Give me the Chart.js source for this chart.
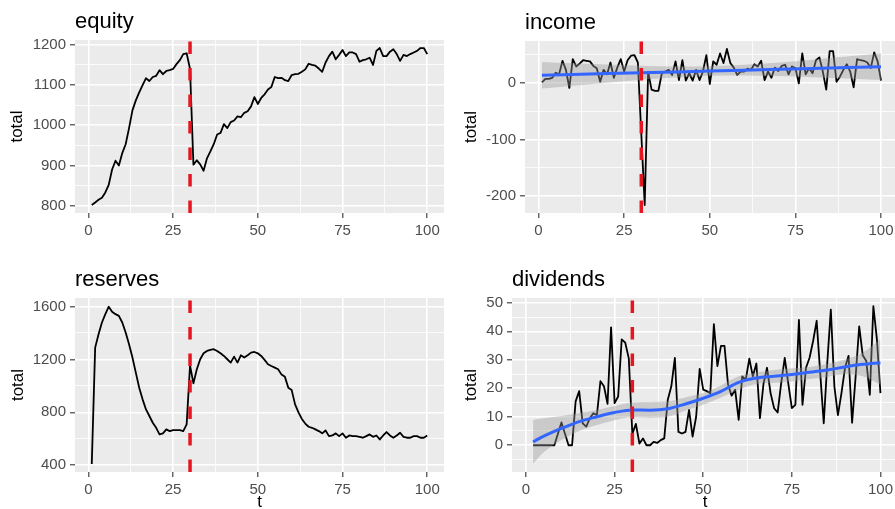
<!DOCTYPE html>
<html lang="en">
<head>
<meta charset="UTF-8" />
<title>equity / income / reserves / dividends</title>
<script src="https://cdn.jsdelivr.net/npm/chart.js"></script>
<style>
  html, body { margin: 0; padding: 0; background: #fff; overflow: hidden; }
  body { width: 895px; height: 509px; position: relative; }
  canvas { position: absolute; }
  #equity { left: 0; top: 0; }
  #income { left: 445px; top: 0; }
  #reserves { left: 0; top: 255px; }
  #dividends { left: 445px; top: 255px; }
</style>
</head>
<body>
<canvas id="equity" width="450" height="255"></canvas>
<canvas id="income" width="460" height="255"></canvas>
<canvas id="reserves" width="450" height="254"></canvas>
<canvas id="dividends" width="460" height="254"></canvas>

<script>
// time index and the shock period
const t = Array.from({ length: 100 }, (_, i) => i + 1);
const shockT = 30;

// x axis
const xTicks = [0, 25, 50, 75, 100];
const xLim = [-3.95, 104.95];

// equity
const equity = [
  802, 808, 815, 820, 833, 852, 890, 912, 900, 931,
  953, 993, 1037, 1062, 1082, 1100, 1117, 1110, 1120, 1123,
  1137, 1127, 1135, 1137, 1140, 1152, 1162, 1177, 1179, 1140,
  902, 913, 903, 887, 918, 935, 953, 977, 981, 1003,
  993, 1008, 1012, 1022, 1020, 1031, 1035, 1047, 1070, 1053,
  1068, 1077, 1089, 1095, 1120, 1117, 1118, 1112, 1110, 1125,
  1127, 1128, 1133, 1139, 1153, 1150, 1148, 1141, 1133, 1156,
  1172, 1183, 1164, 1175, 1187, 1172, 1181, 1181, 1177, 1158,
  1162, 1164, 1168, 1150, 1185, 1192, 1172, 1172, 1183, 1189,
  1177, 1160, 1175, 1172, 1177, 1181, 1185, 1192, 1192, 1177
];
const equityTicks = [800, 900, 1000, 1100, 1200];
const equityLim = [782, 1212];

// income
const income = [
  1, 7, 7, 9, 18, 15, 39, 23, -9, 42,
  29, 34, 40, 39, 38, 30, 26, 2, 23, 15,
  36, 9, 27, 42, 20, 40, 48, 49, 36, -90,
  -216, 20, -12, -14, -14, 17, 20, 23, 14, 38,
  5, 40, 4, 17, 4, 23, 5, 20, 49, -2,
  38, 32, 52, 35, 60, 35, 27, 14, 20, 20,
  25, 23, 33, 29, 39, 5, 20, 9, 27, 21,
  30, 32, 15, 29, 26, -1, 52, 15, 26, 17,
  40, 45, 20, -12, 56, 56, 2, 11, 23, 33,
  20, -8, 42, 40, 39, 36, 26, 54, 38, 4
];
const incomeTicks = [-200, -100, 0];
const incomeLim = [-230, 74];
// linear trend with its confidence band
const incomeFitT = [1, 10, 20, 30, 40, 50, 60, 70, 80, 90, 100];
const incomeFit = [13.5, 14.9, 16.4, 17.9, 19.4, 21.0, 22.5, 24.0, 25.5, 27.0, 28.5];
const incomeHi = [37, 34.7, 32.4, 30.3, 29.1, 29.5, 31.9, 36, 41, 46.4, 52];
const incomeLo = [-10, -4.9, 0.4, 5.5, 9.7, 12.5, 13.1, 12, 10, 7.6, 5];

// reserves
const reserves = [
  410, 1289, 1390, 1479, 1542, 1598, 1560, 1542, 1529, 1479,
  1403, 1315, 1214, 1100, 986, 898, 822, 772, 721, 683,
  633, 641, 671, 658, 666, 666, 666, 658, 709, 1155,
  1019, 1125, 1201, 1246, 1264, 1272, 1277, 1264, 1246, 1226,
  1201, 1176, 1221, 1176, 1231, 1214, 1231, 1251, 1256, 1246,
  1226, 1196, 1163, 1150, 1138, 1125, 1085, 1068, 985, 968,
  860, 800, 750, 715, 691, 683, 671, 658, 641, 663,
  620, 625, 641, 620, 641, 608, 625, 620, 620, 615,
  608, 620, 633, 615, 625, 595, 625, 651, 625, 608,
  625, 646, 615, 608, 608, 620, 620, 608, 608, 625
];
const reservesTicks = [400, 800, 1200, 1600];
const reservesLim = [349, 1664];

// dividends (from t = 2)
const dividendsT = t.slice(1);
const dividends = [
  0, 0, 0, 0, 0, 0, 0, 4, 8,
  4, 0, 0, 15.4, 19, 7.7, 6.5, 9.5, 11.2, 10.6,
  22.5, 20.7, 14.5, 41.4, 14.8, 17.1, 37.2, 36, 30.5, 4,
  7.5, 0.6, 2.4, 0, 0, 1.2, 0.8, 1.8, 2.4, 16,
  20.7, 30.7, 4.7, 4.1, 4.7, 12.4, 3, 10, 26.8, 19.5,
  19, 18.3, 42.5, 27.8, 34.9, 34.9, 21.3, 17.4, 19.5, 8.9,
  24.2, 23, 30.4, 24.2, 28.7, 9.5, 21.6, 27.2, 18.3, 13,
  11.5, 21.9, 30.7, 21.6, 13, 14.2, 44, 14.2, 27.2, 30.7,
  36.6, 43.7, 25.4, 7.7, 29, 47.6, 20.7, 10.6, 18.3, 27.2,
  31.4, 7.9, 24.2, 41.7, 31.6, 29.6, 17.7, 48.8, 37.2, 18.3
];
const dividendsTicks = [0, 10, 20, 30, 40, 50];
const dividendsLim = [-9.4, 51.7];
// loess smooth with its band
const dividendsFitT = [2, 5, 10, 15, 20, 25, 30, 35, 40, 45, 50, 55, 60, 65, 70, 75, 80, 85, 90, 95, 100];
const dividendsFit = [1.2, 3.2, 5.9, 8.3, 10, 11.5, 12.4, 12.3, 12.8, 14.5, 16.5, 18.9, 22.1, 23.6, 24.2, 24.8, 25.6, 26.4, 27.5, 28.4, 29];
const dividendsHi = [8.9, 9.5, 10.3, 11.2, 12.4, 13.8, 15, 15.2, 15.4, 16.8, 18.3, 21, 24.2, 25.5, 26.4, 27, 27.5, 28.5, 30.1, 32.5, 37.2];
const dividendsLo = [-6.5, -2.5, 1.8, 5, 7.1, 8.8, 9.8, 9.6, 10, 12.2, 14.2, 16.8, 19.5, 21.5, 21.9, 22.4, 23.3, 24, 24.8, 24.2, 21.3];

Chart.defaults.font.family = "'Liberation Sans', Arial, sans-serif";

const RED = '#e5161f';
const BLUE = '#3366ff';
const RIBBON = 'rgba(153,153,153,0.4)';

// grey panel behind the plot
const panelBg = {
  id: 'panelBg',
  beforeDraw(chart) {
    const { ctx, chartArea: a } = chart;
    ctx.save();
    ctx.fillStyle = '#ebebeb';
    ctx.fillRect(a.left, a.top, a.right - a.left, a.bottom - a.top);
    ctx.restore();
  }
};

// ggplot-like title, left aligned with the panel
const panelTitle = {
  id: 'panelTitle',
  afterDraw(chart, args, opts) {
    const { ctx, chartArea: a } = chart;
    ctx.save();
    ctx.font = "22px 'Liberation Sans', Arial, sans-serif";
    ctx.fillStyle = '#000';
    ctx.textBaseline = 'alphabetic';
    ctx.textAlign = 'left';
    ctx.fillText(opts.text, a.left, a.top - 12);
    ctx.restore();
  }
};

function minorOf(major, lim) {
  const step = major[1] - major[0];
  const out = [];
  [major[0] - step, ...major].forEach(m => {
    const v = m + step / 2;
    if (v > lim[0] && v < lim[1]) out.push(v);
  });
  return out;
}

function axis(major, lim, extra) {
  const all = [...major, ...minorOf(major, lim)].sort((a, b) => a - b);
  const isMajor = v => major.includes(v);
  return {
    type: 'linear',
    min: lim[0],
    max: lim[1],
    afterBuildTicks: s => { s.ticks = all.map(v => ({ value: v })); },
    border: { display: false },
    grid: {
      color: '#ffffff',
      lineWidth: c => (c.tick && isMajor(c.tick.value)) ? 1.6 : 0.8,
      tickColor: c => (c.tick && isMajor(c.tick.value)) ? '#333333' : 'rgba(0,0,0,0)',
      tickLength: 5,
      tickWidth: 1.1
    },
    ticks: {
      autoSkip: false,
      maxRotation: 0,
      color: '#4d4d4d',
      font: { size: 15 },
      padding: 4,
      callback: v => isMajor(v) ? String(v) : ''
    },
    ...extra
  };
}

const pts = (xs, ys) => xs.map((x, i) => ({ x, y: ys[i] }));

function panel(id, p) {
  const datasets = [{
    data: [{ x: shockT, y: p.yLim[0] }, { x: shockT, y: p.yLim[1] }],
    borderColor: RED, borderWidth: 3.5, borderDash: [12.5, 14], borderCapStyle: 'butt',
    pointRadius: 0, fill: false
  }];
  if (p.fit) {
    const smooth = p.fit.smooth ? { tension: 0.4, cubicInterpolationMode: 'monotone' } : {};
    datasets.push(
      { data: pts(p.fit.t, p.fit.y), borderColor: BLUE, borderWidth: 3, pointRadius: 0, fill: false, ...smooth },
      { data: pts(p.fit.t, p.fit.hi), borderColor: 'rgba(0,0,0,0)', borderWidth: 0, pointRadius: 0,
        backgroundColor: RIBBON, fill: 3, tension: 0.4, cubicInterpolationMode: 'monotone' },
      { data: pts(p.fit.t, p.fit.lo), borderColor: 'rgba(0,0,0,0)', borderWidth: 0, pointRadius: 0,
        fill: false, tension: 0.4, cubicInterpolationMode: 'monotone' }
    );
  }
  datasets.push({
    data: pts(p.t, p.y), borderColor: '#000000', borderWidth: 1.8, pointRadius: 0,
    fill: false, borderJoinStyle: 'round'
  });

  new Chart(document.getElementById(id), {
    type: 'line',
    data: { datasets },
    options: {
      responsive: false,
      animation: false,
      layout: { padding: { top: p.padTop, right: p.padRight, left: 0, bottom: 0 } },
      plugins: {
        legend: { display: false },
        tooltip: { enabled: false },
        panelTitle: { text: p.title }
      },
      scales: {
        x: axis(xTicks, xLim, {
          afterFit: s => { s.height = p.xH; },
          title: {
            display: p.xTitle, text: 't', color: '#000',
            font: { size: 17 }, padding: { top: 0, bottom: -4 }
          }
        }),
        y: axis(p.yTicks, p.yLim, {
          afterFit: s => { s.width = p.yW; },
          title: {
            display: true, text: 'total', color: '#000',
            font: { size: 17 }, padding: { top: p.yTitlePad, bottom: 0 }
          }
        })
      }
    },
    plugins: [panelBg, panelTitle]
  });
}

panel('equity', {
  title: 'equity', t, y: equity, yTicks: equityTicks, yLim: equityLim,
  yW: 75, padTop: 40, padRight: 6, xH: 42, yTitlePad: 7.6, xTitle: false
});
panel('income', {
  title: 'income', t, y: income, yTicks: incomeTicks, yLim: incomeLim,
  yW: 80, padTop: 41, padRight: 7, xH: 42, yTitlePad: 16.5, xTitle: false,
  fit: { t: incomeFitT, y: incomeFit, hi: incomeHi, lo: incomeLo, smooth: false }
});
panel('reserves', {
  title: 'reserves', t, y: reserves, yTicks: reservesTicks, yLim: reservesLim,
  yW: 75, padTop: 43, padRight: 6, xH: 37, yTitlePad: 8, xTitle: true
});
panel('dividends', {
  title: 'dividends', t: dividendsT, y: dividends, yTicks: dividendsTicks, yLim: dividendsLim,
  yW: 67, padTop: 43, padRight: 7, xH: 37, yTitlePad: 16.5, xTitle: true,
  fit: { t: dividendsFitT, y: dividendsFit, hi: dividendsHi, lo: dividendsLo, smooth: true }
});
</script>
</body>
</html>
